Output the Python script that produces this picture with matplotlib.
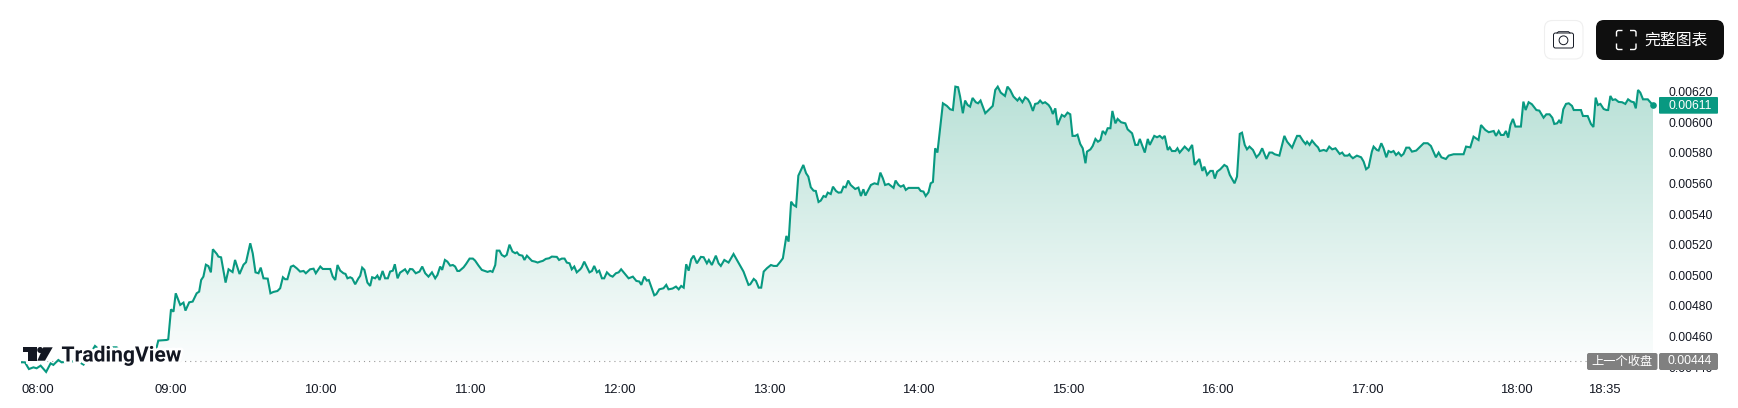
import numpy as np
import matplotlib
matplotlib.use('Agg')
import matplotlib.pyplot as plt
from matplotlib.colors import LinearSegmentedColormap
from matplotlib.patches import FancyBboxPatch, Polygon, Circle, PathPatch
from matplotlib.path import Path
import matplotlib.patheffects as pe

plt.rcParams['font.family'] = ['Liberation Sans', 'Noto Sans CJK SC', 'DejaVu Sans']

# minutes after 08:00
minutes = [
    0.2, 1.5, 3.1, 4.9, 6.2, 7.8, 10, 11.8, 12.9, 14.9, 16.2, 22.5, 25, 29.6, 31.6, 35.6, 38.3, 40.3, 47.7, 53.3,
    54.4, 55, 58.4, 59, 60.1, 61.1, 62, 63.8, 65.1, 65.9, 67.4, 68.8, 70.4, 71.4, 72.2, 73.1, 74.1, 75.1, 76.1, 76.9,
    78.5, 79.1, 80.2, 82, 83.2, 84.8, 85.8, 87.6, 89.2, 90.2, 91.9, 92.9, 94, 95.2, 96.1, 97.2, 98.9, 100, 101.2, 102.8,
    103.9, 105, 105.9, 106.8, 108.2, 109.2, 110.6, 111.9, 113.3, 114.2, 115.9, 117.3, 118.2, 120, 121, 124, 125, 126, 126.9, 128,
    129.3, 130.1, 130.9, 132, 132.8, 134, 135.3, 136, 136.8, 137.7, 138.9, 140, 140.8, 142, 142.9, 143.8, 145, 146, 147.1, 148,
    149.1, 149.9, 151, 152, 154, 155, 156, 157, 158.3, 159.8, 160.9, 162.1, 163.4, 164.8, 166.1, 167, 168.1, 168.9, 170, 171,
    172.1, 173.2, 174.1, 175, 175.8, 177.5, 178.5, 179.9, 181.2, 182.1, 183.5, 184.8, 186.1, 187.1, 188.2, 189.1, 190.2, 190.8, 191.9, 192.8,
    193.9, 194.8, 195.9, 197.1, 198.2, 198.9, 199.8, 201.1, 201.9, 202.9, 204.9, 206.2, 207.2, 208.2, 209.3, 210.5, 211.8, 212.9, 214.9, 215.8,
    216.9, 218, 218.9, 220, 220.9, 221.9, 222.9, 224.3, 224.9, 225.9, 228, 229, 229.9, 231, 231.9, 233, 233.9, 235, 236.3, 237.3,
    238.6, 239.7, 240.7, 243.7, 245.4, 246.8, 248, 248.8, 250, 251, 251.8, 254, 254.8, 256, 257.7, 258.8, 259.7, 261.3, 262.7, 263.8,
    264.8, 265.8, 266.8, 267.8, 268.8, 269.8, 271.1, 272.7, 273.8, 275.1, 275.9, 277.1, 278.7, 279.8, 280.7, 282.1, 283.8, 285.8, 289.8, 291.8,
    292.5, 293.9, 294.8, 295.9, 296.9, 297.9, 299.2, 300.8, 301.9, 303.2, 304.6, 305.6, 307, 307.9, 308.9, 309.8, 310.9, 311.8, 313.8, 314.9,
    315.8, 316.8, 317.9, 318.8, 319.9, 320.8, 321.9, 322.8, 323.6, 324.8, 325.7, 326.9, 327.9, 329, 329.9, 330.8, 331.8, 332.8, 334.6, 335.9,
    336.9, 337.9, 338.7, 339.9, 340.9, 342.3, 343.7, 344.7, 345.7, 346.6, 348, 350, 350.8, 352, 352.9, 354, 354.9, 356, 360, 360.9,
    362, 362.9, 364, 364.9, 365.8, 366.7, 367.6, 369.8, 371.4, 372.7, 373.8, 374.8, 375.9, 376.7, 377.8, 378.7, 379.7, 380.7, 381.7, 383,
    383.9, 384.9, 386.8, 388.1, 389.8, 390.8, 391.8, 393, 394.7, 395.7, 396.8, 398.1, 399.7, 400.5, 401.7, 402.8, 403.9, 404.8, 405.9, 406.8,
    407.9, 408.8, 409.8, 410.8, 412.2, 413.1, 413.9, 414.9, 415.8, 417.5, 418.6, 419.8, 420.9, 421.8, 422.9, 423.8, 424.9, 425.9, 427, 427.6,
    429, 429.9, 431, 432, 433, 433.9, 435, 435.9, 437, 437.8, 439, 439.9, 441.3, 443, 443.9, 445.7, 447, 448, 448.8, 450.8,
    452, 452.8, 454.6, 455.7, 456.8, 457.9, 458.8, 460, 460.8, 461.7, 463.1, 463.9, 464.8, 466.8, 468.4, 469.8, 470.8, 472.7, 473.9, 474.7,
    475.8, 477.1, 478.1, 478.9, 479.8, 481.1, 482.7, 483.8, 484.9, 486.8, 487.8, 488.9, 489.8, 490.9, 491.8, 492.8, 494.2, 495.6, 496.8, 497.9,
    499.6, 500.8, 501.9, 502.9, 504.8, 506.8, 507.9, 509.9, 511, 511.9, 513, 514.3, 515.3, 515.9, 516.9, 517.9, 519.3, 520.3, 521, 522.6,
    523.7, 524.8, 526, 527.3, 529, 530, 530.9, 532.2, 532.9, 533.3, 534.3, 535.9, 537.6, 538.6, 539.6, 540.6, 541.9, 542.6, 543.9, 544.6,
    545.7, 546.6, 547.7, 548.6, 549.6, 550.6, 551.6, 552.6, 553.7, 554.6, 555.7, 556.9, 558, 559.7, 561, 562.7, 564.3, 565.6, 567.6, 568.7,
    569.8, 571.6, 572.7, 574.7, 578.7, 579.7, 581.4, 582.7, 584.7, 585.7, 587.4, 588.8, 590.8, 591.7, 592.8, 593.7, 594.8, 595.7, 596.6, 597.5,
    598.5, 599.5, 601.7, 602.7, 603.6, 604.8, 606.1, 607.9, 609.1, 610.8, 611.9, 613.2, 614.3, 615.1, 616.2, 617, 617.8, 618.7, 619.8, 620.9,
    622.2, 622.9, 625.8, 626.6, 628.5, 629.8, 630.8, 631.7, 632.6, 633.6, 634.9, 636, 636.7, 637.6, 638.5, 639.6, 640.9, 642.3, 643.6, 644.7,
    646, 647, 647.8, 648.7, 649.6, 650.7, 652.6, 653.6, 654.7,
]
# price in 1e-5
prices = [
    443.1, 443.1, 438.7, 439.8, 439.2, 440.9, 436.8, 442.4, 441.4, 444.6, 443.1, 444, 441.6, 453.8, 451, 452.9, 452.9, 449, 445.7, 447.9,
    453.3, 457.3, 457.7, 458.1, 477.7, 476.2, 488.2, 480.6, 482.1, 476.9, 482.3, 482.8, 488.2, 489.3, 496.9, 499.1, 506.9, 506, 501.9, 517,
    513.9, 512.2, 511.7, 495.2, 503.9, 502.1, 510, 500.8, 506.9, 508.5, 520.9, 514.3, 501.9, 501.3, 505, 498, 497.8, 488.2, 489.1, 489.7,
    491.5, 498.7, 497.4, 497.4, 505.6, 506.3, 504.5, 502.4, 502.8, 501.3, 503.9, 504.3, 501.3, 505.7, 504.1, 504.1, 499.1, 496.9, 506.7, 503,
    501.3, 500.9, 498, 498.7, 498, 494.1, 498, 499.6, 505, 503.5, 495.2, 493, 498.7, 498, 499.8, 496.9, 502.8, 498, 498, 502.4,
    503, 507.2, 498, 501.7, 503.9, 501.3, 504.1, 503.9, 501.3, 502.4, 505.7, 501.3, 499.1, 501.9, 498, 500.2, 505.7, 503.5, 510, 508.9,
    506.3, 506.7, 505.7, 502.8, 502.8, 505.2, 507.4, 510.9, 510.9, 509.6, 506.3, 503.5, 502.8, 502.2, 502.8, 502.2, 506.7, 516.1, 516.1, 513.3,
    512.2, 513.3, 520, 515.5, 514.4, 515, 513.3, 512.8, 510, 512.8, 509.4, 508.9, 508.3, 508.9, 509.4, 510.7, 511.1, 512.2, 512, 510,
    510.9, 510.9, 508.3, 507.8, 503.9, 505.7, 501.9, 503.9, 505.2, 508.9, 501.9, 502.8, 506.1, 501.9, 503, 498, 498, 501.9, 499.8, 499.1,
    501.3, 501.9, 503.9, 498, 499.1, 496.3, 495.9, 493.7, 499.1, 496.5, 496.9, 486.9, 487.6, 490.8, 491.5, 493.7, 490.8, 491.3, 492.6, 490.8,
    493, 491.9, 507.2, 503, 510.4, 512.8, 507.8, 512, 511.8, 507.8, 510, 506.7, 512.8, 507.8, 506.1, 510, 508.3, 513.9, 502.4, 493.7,
    494.1, 497.6, 496.3, 491.9, 491.9, 502.4, 504.6, 506.7, 506.1, 506.1, 508.9, 511.1, 525.7, 522, 548.1, 546, 544.9, 565.1, 572.1, 566.7,
    564.5, 557.5, 555.3, 555.1, 547.9, 548.8, 551.8, 551.2, 554, 553.1, 557.9, 555.1, 554, 554.2, 557.9, 557.5, 561.9, 559, 556.4, 557.3,
    551.8, 556.2, 552.1, 555.8, 559, 560.1, 559.5, 567.1, 563.4, 559, 559.7, 557.1, 561.9, 559, 557.9, 558.8, 555.8, 557.1, 557.1, 555.1,
    554.7, 551.8, 554.2, 560.1, 561, 583, 580.2, 612.4, 610.7, 608.5, 608, 623.3, 622.9, 616.8, 605.9, 614.2, 611.3, 610.2, 615.9, 613.1,
    612.4, 614.2, 605.9, 608, 610.7, 621.1, 623.3, 619.4, 617.2, 623.3, 621.1, 616.8, 614.2, 615.9, 613.1, 616.3, 615, 612.4, 607.4, 612,
    612.4, 614.2, 612.4, 613.1, 611.3, 609.1, 605.4, 609.1, 598.2, 604.8, 603.7, 606.3, 605.2, 591.1, 591.1, 591.9, 585.8, 583, 573.2, 580.8,
    582.3, 584.5, 589.1, 587.3, 588.4, 594.3, 592.4, 596.1, 596.1, 607.4, 599.3, 602.2, 600, 599.3, 595.4, 592.8, 585.2, 585.2, 589.1, 580.2,
    589.1, 585.2, 591.1, 590.2, 591.1, 589.5, 591.1, 581.9, 583.6, 581.2, 581.2, 583, 580.2, 584.1, 581.5, 585.2, 572.1, 576, 568.2, 571,
    565.6, 568.2, 568.2, 563.2, 567.7, 569.3, 572.1, 571, 565.6, 560.1, 564.5, 592.4, 593.2, 585.2, 582.3, 584.1, 581.9, 577.1, 579.3, 583,
    576, 580.2, 580.2, 579.1, 578.2, 591.1, 587.3, 583.4, 587.8, 591.1, 591.1, 587.8, 585.8, 587.3, 585.2, 588, 585.2, 583.6, 581.2, 581.9,
    581.2, 584.1, 582.3, 583, 579.3, 580.2, 578.2, 578.2, 579.1, 578, 576.5, 578.2, 577.1, 574.3, 569.3, 570.6, 580.8, 584.1, 581.9, 581.5,
    586.3, 583, 577.1, 581.2, 580.4, 581.2, 578.6, 580.2, 578, 579.3, 583.4, 583.4, 580.8, 581.5, 583.6, 586.3, 586.3, 584.5, 577.1, 580.2,
    577.1, 576, 578.2, 579.1, 579.1, 584.1, 583.6, 590.6, 588.4, 598.2, 595, 593.5, 594.3, 591.1, 594.3, 591.7, 591.7, 594.3, 590, 598.2,
    602.2, 597.2, 597.2, 613.5, 608, 613.1, 611.8, 608, 607.6, 603, 605.2, 605.2, 603, 598.9, 599.3, 601.1, 599.3, 608.5, 612, 612.4,
    610.7, 608, 608, 604.1, 604.1, 598.9, 596.9, 616.1, 611.3, 612, 608.7, 608, 608, 617.2, 614.6, 615, 613.3, 613.1, 612, 615,
    613.5, 613.1, 609.1, 621.1, 619.4, 615, 615, 613.1, 611.1,
]
prev_close = 0.00444
last_price = 0.00611
y_ticks = [0.00440, 0.00460, 0.00480, 0.00500, 0.00520, 0.00540, 0.00560, 0.00580, 0.00600, 0.00620]
x_ticks = [0, 60, 120, 180, 240, 300, 360, 420, 480, 540, 600, 635]
x_labels = ['08:00', '09:00', '10:00', '11:00', '12:00', '13:00', '14:00', '15:00', '16:00', '17:00', '18:00', '18:35']

W, H = 1738, 408
GREEN = '#089981'
GREY = '#808080'
INK = '#131722'

x = np.array(minutes)
y = np.array(prices) / 1e5

fig = plt.figure(figsize=(W / 100, H / 100), dpi=100, facecolor='white')

# chart pane, placed in pixels so the time and price scales line up
px_left, px_right, px_top, px_bottom = 21.2, 1653, 75, 375
ax = fig.add_axes([px_left / W, 1 - px_bottom / H, (px_right - px_left) / W, (px_bottom - px_top) / H])
for s in ax.spines.values():
    s.set_visible(False)
ax.patch.set_alpha(0)

# gradient area down to the previous close
cmap = LinearSegmentedColormap.from_list('area', ['#B9E1D7', '#FBFDFD'])
im = ax.imshow(np.linspace(0, 1, 256).reshape(-1, 1), extent=[0, 654.7, prev_close, y.max()],
               origin='upper', aspect='auto', cmap=cmap, zorder=1)
ax.set_xlim(0, 654.7)
ax.set_ylim(0.004348, 0.006309)
verts = [(x[0], prev_close)] + list(zip(x, y)) + [(x[-1], prev_close)]
clip = Polygon(verts, closed=True, transform=ax.transData, fill=False, edgecolor='none')
ax.add_patch(clip)
im.set_clip_path(clip)

ax.plot(x, y, color=GREEN, lw=1.5, solid_joinstyle='miter', zorder=3)
ax.plot(x[-1], last_price, 'o', color=GREEN, ms=4.8, mew=0, zorder=4, clip_on=False)
ax.axhline(prev_close, color='#9A9A9A', lw=0.8, dashes=(1, 3.6), zorder=2)

ax.yaxis.tick_right()
ax.set_yticks(y_ticks)
ax.set_yticklabels([f'{v:.5f}' for v in y_ticks], fontsize=8.8, color=INK)
ax.tick_params(axis='y', length=0, pad=11.5)
ax.set_xticks(x_ticks)
ax.set_xticklabels(x_labels, fontsize=9.4, color=INK)
ax.tick_params(axis='x', length=0, pad=6.8)
ax.get_xticklabels()[0].set_ha('left')

# everything else sits in a pixel overlay on top
ov = fig.add_axes([0, 0, 1, 1], zorder=5)
ov.set_xlim(0, W)
ov.set_ylim(H, 0)
ov.axis('off')


def box(x0, y0, x1, y1, color, r=2, edge='none'):
    ov.add_patch(FancyBboxPatch((x0 + r, y0 + r), x1 - x0 - 2 * r, y1 - y0 - 2 * r,
                                boxstyle=f'round,pad={r},rounding_size={r}',
                                fc=color, ec=edge, lw=0.8))


# price labels on the scale
box(1659, 97, 1718, 113.7, GREEN, r=1)
ov.text(1690, 105.6, f'{last_price:.5f}', color='white', fontsize=8.8, ha='center', va='center')
box(1587, 353, 1657.5, 370, GREY, r=2)
ov.text(1622, 361.5, '上一个收盘', color='white', fontsize=8.8, ha='center', va='center')
box(1659, 353, 1718, 370, GREY, r=2)
ov.text(1690, 361.5, f'{prev_close:.5f}', color='white', fontsize=8.8, ha='center', va='center')

# TradingView logo, white halo goes under all the shapes
logo_t = [(22.7, 347.3), (36.7, 347.3), (36.7, 360.7), (28.3, 360.7), (28.3, 352), (22.7, 352)]
logo_v = [(43.3, 347.3), (52.7, 347.3), (45, 360.7), (37.3, 360.7)]
for pts in (logo_t, logo_v):
    ov.add_patch(Polygon(pts, closed=True, fc='white', ec='white', lw=3.5, zorder=2))
    ov.add_patch(Polygon(pts, closed=True, fc='#131722', ec='none', zorder=3))
ov.add_patch(Circle((40.2, 350), 3, fc='#131722', ec='none', zorder=3))
ov.text(61.5, 356, 'TradingView', fontsize=15.2, color='#131722', family='Roboto', weight='bold',
        ha='left', va='center', zorder=3, path_effects=[pe.withStroke(linewidth=4, foreground='white')])

# camera button
box(1544.5, 20.5, 1583, 59, 'white', r=8, edge='#EFEFEF')
ov.add_patch(FancyBboxPatch((1554.5, 34), 18, 13, boxstyle='round,pad=1,rounding_size=2',
                            fc='white', ec='#131722', lw=0.7))
ov.plot([1557, 1558.5, 1568.5, 1570], [33, 31.7, 31.7, 33], color='#131722', lw=0.7)
ov.add_patch(Circle((1563.5, 40.3), 4.4, fc='white', ec='#131722', lw=0.7))

# full chart button
box(1596, 20, 1724, 60, '#0F0F0F', r=8)
bx0, bx1, by0, by1 = 1616.5, 1636, 30.5, 49.5
for cx, cy, dx, dy in ((bx0, by0, 1, 1), (bx1, by0, -1, 1), (bx0, by1, 1, -1), (bx1, by1, -1, -1)):
    corner = Path([(cx + 6 * dx, cy), (cx + 2 * dx, cy), (cx, cy), (cx, cy + 2 * dy), (cx, cy + 6 * dy)],
                  [Path.MOVETO, Path.LINETO, Path.CURVE3, Path.CURVE3, Path.LINETO])
    ov.add_patch(PathPatch(corner, fc='none', ec='white', lw=1.0))
ov.text(1676, 40, '完整图表', color='white', fontsize=11.4, ha='center', va='center')

fig.savefig('out.png', dpi=100, facecolor='white')
